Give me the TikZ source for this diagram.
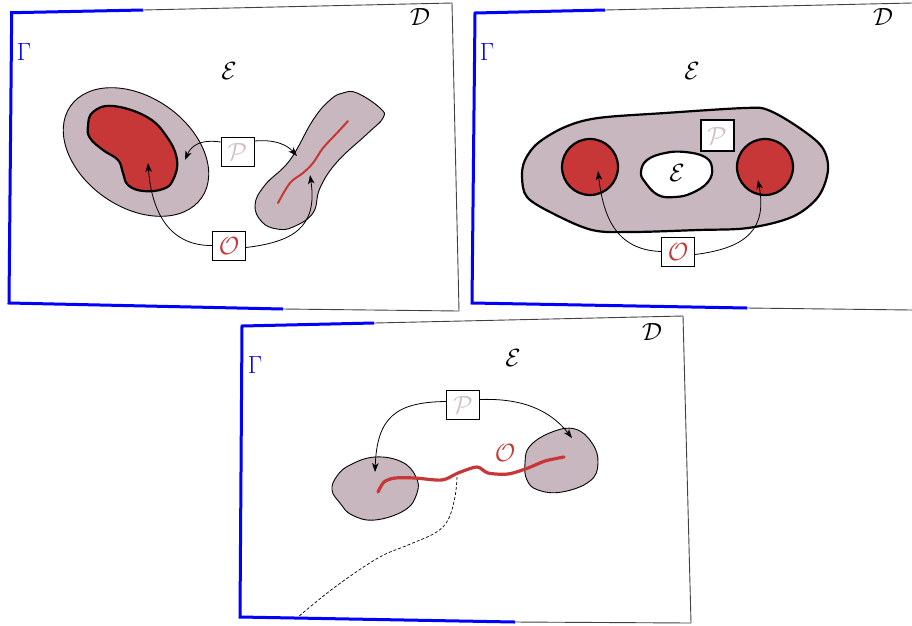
\documentclass[tikz,border=0pt]{standalone}
\usetikzlibrary{arrows.meta,calc}
\definecolor{blobgray}{HTML}{C8B7BE}
\definecolor{blobred}{HTML}{C83737}
\definecolor{ptext}{HTML}{D2BFC6}
\begin{document}
\begin{tikzpicture}[x=1pt,y=1pt,
  frame/.style={draw=black!75,line width=0.9pt},
  gam/.style={draw=blue,line width=3pt,line join=miter},
  blob/.style={draw=black,line width=0.9pt,fill=blobgray},
  thickblob/.style={draw=black,line width=2.2pt},
  redcurve/.style={draw=blobred,line width=2.4pt,line cap=round},
  box/.style={draw=black,fill=white,line width=0.9pt,minimum width=33pt,minimum height=29pt,inner sep=0pt,font=\fontsize{27}{29}\selectfont},
  lbl/.style={font=\fontsize{27}{29}\selectfont,inner sep=0pt},
  arr/.style={draw=black,line width=0.8pt,-{Stealth[length=9pt,width=6.5pt,inset=2.5pt]}},
]
\useasboundingbox (0,0) rectangle (912,-625);

% ================= Panel 1 =================
\draw[frame] (143,-10) -- (452,-3) -- (459,-311) -- (283,-309);
\draw[gam] (143,-10) -- (11.7,-12.7) -- (9,-303) -- (283,-309);
\node[lbl] (D1) at (420,-17) {$\mathcal{D}$};
\node[lbl,text=blue] (G1) at (24,-52) {$\Gamma$};
\node[lbl] (E1) at (229,-71) {$\mathcal{E}$};

\draw[blob] (136,-152) ellipse[x radius=80,y radius=55,rotate=-35];
\path[thickblob,fill=blobred] plot[smooth cycle,tension=0.7] coordinates {(93,-112) (113,-106) (147,-117) (167,-137) (177,-160) (173,-180) (163,-189) (143,-191) (128,-185) (123,-173) (118,-160) (103,-150) (90,-138) (88,-126)};
\path[blob] plot[smooth cycle,tension=0.7] coordinates {(357,-93) (380,-108) (383,-118) (367,-134) (337,-162) (320,-188) (313,-213) (293,-227) (277,-229) (262,-222) (255,-205) (265,-185) (290,-160) (313,-120) (330,-100) (343,-93)};
\draw[redcurve,line width=2pt] plot[smooth,tension=0.6] coordinates {(278,-203) (290,-183) (303,-173) (313,-163) (323,-148) (337,-133) (348,-121)};

\node[box,text=ptext] (P1) at (237.5,-152) {$\mathcal{P}$};
\node[box,text=blobred] (O1) at (229,-245.5) {$\mathcal{O}$};
\coordinate (t11) at (185,-160);
\coordinate (t12) at (297,-156);
\coordinate (t13) at (148,-163);
\coordinate (t14) at (310,-175);
\draw[arr] ($(P1.west)+(0,10)$) .. controls (200,-139) and (191,-146) .. (t11);
\draw[arr] ($(P1.east)+(0,11)$) .. controls (277,-139) and (288,-146) .. (t12);
\draw[arr] (O1.west) .. controls (165,-246) and (151,-205) .. (t13);
\draw[arr] ($(O1.east)+(0,-2)$) .. controls (292,-242) and (318,-228) .. (t14);

% ================= Panel 2 =================
\draw[frame] (605,-10) -- (912,-3);
\draw[frame] (747,-308) -- (912,-310);
\draw[gam] (605,-10) -- (475,-13) -- (472,-303) -- (747,-308);
\node[lbl] (D2) at (883,-17) {$\mathcal{D}$};
\node[lbl,text=blue] (G2) at (487,-52) {$\Gamma$};
\node[lbl] (E2) at (692,-71) {$\mathcal{E}$};

\path[thickblob,fill=blobgray] plot[smooth cycle,tension=0.55] coordinates {(522,-177) (527,-197) (552,-213) (592,-230) (632,-232) (698,-230) (748,-228) (792,-217) (818,-197) (828,-170) (822,-147) (798,-127) (768,-110) (745,-108) (665,-113) (598,-118) (565,-127) (538,-143) (525,-160)};
\draw[thickblob,fill=blobred] (590,-167) circle[radius=28];
\draw[thickblob,fill=blobred] (765,-167) circle[radius=28];
\path[thickblob,fill=white] plot[smooth cycle,tension=0.7] coordinates {(641,-172) (647,-160) (665,-153) (685,-152) (705,-157) (712,-168) (708,-182) (692,-193) (675,-197) (658,-195) (645,-182)};
\node[lbl] (E2b) at (677,-173) {$\mathcal{E}$};
\node[box,text=ptext,line width=2pt,minimum height=31pt] (P2) at (717,-135.5) {$\mathcal{P}$};
\node[box,text=blobred] (O2) at (678,-251.5) {$\mathcal{O}$};
\coordinate (t21) at (598,-171);
\coordinate (t22) at (758,-180);
\draw[arr] (O2.west) .. controls (615,-250) and (603,-215) .. (t21);
\draw[arr] ($(O2.east)+(0,-3)$) .. controls (748,-248) and (767,-228) .. (t22);

% ================= Panel 3 =================
\draw[frame] (374,-323) -- (683,-316) -- (691,-623) -- (515,-622);
\draw[gam] (374,-323) -- (242,-326) -- (240,-617) -- (515,-622);
\node[lbl] (D3) at (652,-332) {$\mathcal{D}$};
\node[lbl,text=blue] (G3) at (255,-365) {$\Gamma$};
\node[lbl] (E3) at (513,-358) {$\mathcal{E}$};

\path[blob] plot[smooth cycle,tension=0.7] coordinates {(332,-490) (337,-476) (350,-465) (375,-457) (402,-462) (416,-477) (417,-493) (405,-510) (375,-520) (352,-515) (340,-503)};
\path[blob] plot[smooth cycle,tension=0.7] coordinates {(525,-463) (530,-446) (552,-432) (575,-429) (592,-443) (598,-463) (590,-481) (562,-492) (538,-490) (527,-480)};
\draw[densely dashed,line width=0.7pt] plot[smooth,tension=0.6] coordinates {(457,-477) (455,-497) (448,-520) (435,-533) (408,-545) (378,-558) (335,-587) (298,-617)};
\draw[redcurve,line width=3.2pt] plot[smooth,tension=0.5] coordinates {(378,-492) (384,-482) (395,-478) (415,-478) (442,-480) (458,-473) (477,-467) (488,-473) (508,-474) (528,-468) (545,-461) (564,-457)};
\node[lbl,text=blobred] (O3) at (505,-453) {$\mathcal{O}$};
\node[box,text=ptext] (P3) at (463,-404.5) {$\mathcal{P}$};
\coordinate (t31) at (375,-472);
\coordinate (t32) at (572,-438);
\draw[arr] ($(P3.west)+(0,3)$) .. controls (395,-402) and (377,-418) .. (t31);
\draw[arr] ($(P3.east)+(0,5)$) .. controls (522,-398) and (550,-410) .. (t32);
\end{tikzpicture}
\end{document}
